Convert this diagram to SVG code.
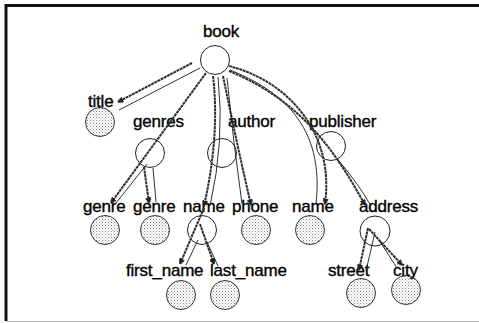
<svg xmlns="http://www.w3.org/2000/svg" width="479" height="323" viewBox="0 0 479 323">
  <defs>
    <!-- halftone stipple used for leaf nodes -->
    <pattern id="stipple" width="3" height="3" patternUnits="userSpaceOnUse">
      <rect width="3" height="3" fill="#fff"/>
      <rect width="1" height="1" fill="#8a8a8a"/>
      <rect x="1.5" y="1.5" width="1" height="1" fill="#b0b0b0"/>
    </pattern>
    <marker id="arrow" viewBox="0 0 10 10" refX="9" refY="5" markerWidth="6" markerHeight="6" orient="auto" markerUnits="userSpaceOnUse">
      <path d="M0,1 L10,5 L0,9 Z M3,0 L3,10 M6,1.5 L6,8.5" fill="#222" stroke="#222" stroke-width="1.2"/>
    </marker>
  </defs>
  <style>
    .inner { fill: #fff; stroke: #222; stroke-width: 1; }
    .leaf { fill: url(#stipple); stroke: #333; stroke-width: 1; }
    .lbl { font-family: "Liberation Sans", Arial, sans-serif; font-size: 17px; fill: #000; stroke: #000; stroke-width: 0.35; letter-spacing: -0.2px; }
    .g { fill: none; stroke: #2e2e2e; stroke-width: 2; stroke-dasharray: 3 0.6; }
    .t { fill: none; stroke: #1a1a1a; stroke-width: 0.9; }
    .frame { stroke: #111; stroke-width: 3; fill: none; }
  </style>

  <!-- page frame -->
  <rect x="0" y="0" width="479" height="323" fill="#fff"/>
  <path class="frame" d="M6,321 L6,5.5 L479,5.5"/>
  <line x1="7" y1="321.5" x2="479" y2="321.5" stroke="#bbb" stroke-width="1"/>

  <!-- nodes -->
  <g id="book"><circle class="inner" cx="215" cy="60" r="14.5"/><text class="lbl" x="203" y="37">book</text></g>
  <g id="title"><circle class="leaf" cx="100" cy="122" r="14.5"/><text class="lbl" x="88" y="107">title</text></g>
  <g id="genres"><circle class="inner" cx="150" cy="153" r="14.5"/><text class="lbl" x="133" y="127">genres</text></g>
  <g id="author"><circle class="inner" cx="222" cy="153" r="14.5"/><text class="lbl" x="228" y="127">author</text></g>
  <g id="publisher"><circle class="inner" cx="331" cy="146" r="14.5"/><text class="lbl" x="309" y="127">publisher</text></g>
  <g id="genre-1"><circle class="leaf" cx="105" cy="230" r="14.5"/><text class="lbl" x="83" y="212">genre</text></g>
  <g id="genre-2"><circle class="leaf" cx="155" cy="230" r="14.5"/><text class="lbl" x="133" y="212">genre</text></g>
  <g id="author-name"><circle class="inner" cx="202" cy="230" r="14.5"/><text class="lbl" x="183" y="212">name</text></g>
  <g id="phone"><circle class="leaf" cx="256" cy="230" r="14.5"/><text class="lbl" x="232" y="212">phone</text></g>
  <g id="publisher-name"><circle class="leaf" cx="310" cy="230" r="14.5"/><text class="lbl" x="292" y="212">name</text></g>
  <g id="address"><circle class="inner" cx="375" cy="231" r="15"/><text class="lbl" x="359" y="212">address</text></g>
  <g id="first_name"><circle class="leaf" cx="181" cy="295" r="14.5"/><text class="lbl" x="126" y="276">first_name</text></g>
  <g id="last_name"><circle class="leaf" cx="225" cy="295" r="14.5"/><text class="lbl" x="210" y="276">last_name</text></g>
  <g id="street"><circle class="leaf" cx="361" cy="293" r="14.5"/><text class="lbl" x="328" y="276">street</text></g>
  <g id="city"><circle class="leaf" cx="406" cy="290" r="14.5"/><text class="lbl" x="393" y="276">city</text></g>

  <!-- connectors -->
  <g id="connectors">
    <!-- book -> title -->
    <path class="g" d="M192,63 L118,102" marker-end="url(#arrow)"/>
    <path class="t" d="M200,68 L119,110"/>
    <!-- book -> genres -> genre -->
    <path class="g" d="M206,73 L111,203" marker-end="url(#arrow)"/>
    <path class="t" d="M147,164 L116,203"/>
    <!-- genres -> genre -->
    <path class="g" d="M144,167 L149,203" marker-end="url(#arrow)"/>
    <path class="t" d="M153,168 L156,202"/>
    <!-- book -> author -> name -->
    <path class="g" d="M213,76 Q220,135 204,206" marker-end="url(#arrow)"/>
    <path class="t" d="M218,77 Q225,140 210,206"/>
    <!-- book -> author -> phone -->
    <path class="g" d="M223,76 Q236,140 251,205" marker-end="url(#arrow)"/>
    <path class="t" d="M227,78 Q233,140 242,204"/>
    <!-- book -> publisher -> name -->
    <path class="g" d="M229,66 C285,80 335,130 325,204" marker-end="url(#arrow)"/>
    <path class="t" d="M230,70 C280,90 325,125 316,204"/>
    <!-- book -> publisher -> address -->
    <path class="g" d="M229,71 C300,100 335,150 365,205" marker-end="url(#arrow)"/>
    <path class="t" d="M338,160 Q356,180 371,206"/>
    <!-- name -> first_name / last_name -->
    <path class="g" d="M204,208 L180,264" marker-end="url(#arrow)"/>
    <path class="t" d="M198,240 L186,265"/>
    <path class="g" d="M200,224 L214,264" marker-end="url(#arrow)"/>
    <path class="t" d="M207,242 L218,266"/>
    <!-- address -> street / city -->
    <path class="g" d="M368,228 L359,270" marker-end="url(#arrow)"/>
    <path class="t" d="M375,232 L366,271"/>
    <path class="g" d="M369,229 L402,265" marker-end="url(#arrow)"/>
    <path class="t" d="M379,240 L397,268"/>
  </g>
</svg>
